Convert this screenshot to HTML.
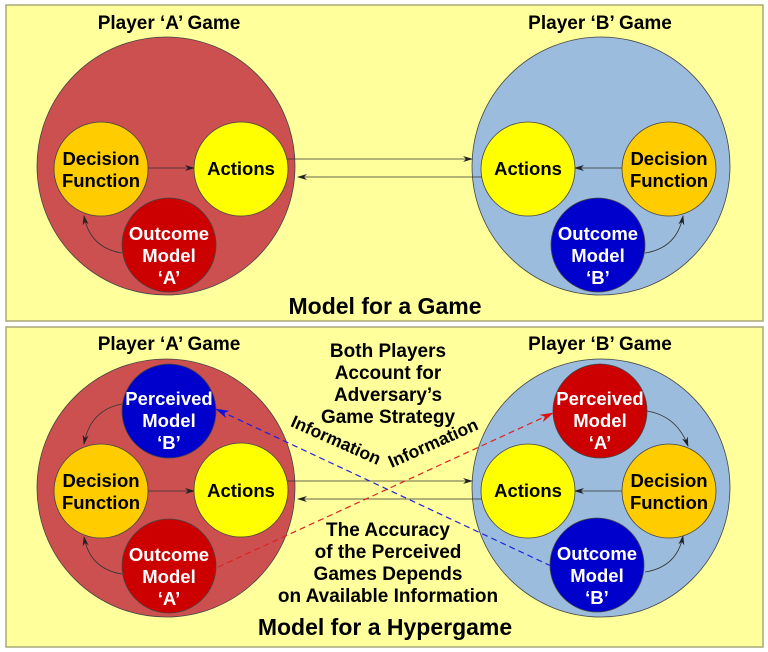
<!DOCTYPE html>
<html><head><meta charset="utf-8"><style>
html,body{margin:0;padding:0;background:#fff}
svg{display:block}
text{font-family:"Liberation Sans",Arial,sans-serif;font-weight:bold;text-anchor:middle}
</style></head><body>
<svg width="768" height="652" viewBox="0 0 768 652" xmlns="http://www.w3.org/2000/svg">
<defs>
<marker id="ah" markerWidth="10" markerHeight="6" refX="9" refY="3" orient="auto" markerUnits="userSpaceOnUse"><path d="M0,0 L10,3 L0,6 L3,3 z" fill="#222"/></marker>
<marker id="ahr" markerWidth="14" markerHeight="8" refX="13" refY="4" orient="auto" markerUnits="userSpaceOnUse"><path d="M0,0 L14,4 L0,8 L4,4 z" fill="#dd1111"/></marker>
<marker id="ahb" markerWidth="14" markerHeight="8" refX="13" refY="4" orient="auto" markerUnits="userSpaceOnUse"><path d="M0,0 L14,4 L0,8 L4,4 z" fill="#1111dd"/></marker>
</defs>
<rect x="6" y="5" width="757" height="316" fill="#ffff9c" stroke="#a8a878" stroke-width="1.5"/>
<rect x="6" y="327" width="757" height="320" fill="#ffff9c" stroke="#a8a878" stroke-width="1.5"/>

<!-- TOP -->
<text x="169" y="29" font-size="19">Player ‘A’ Game</text>
<text x="600" y="29" font-size="19">Player ‘B’ Game</text>
<text x="385" y="314" font-size="23">Model for a Game</text>
<circle cx="166" cy="166" r="129" fill="#cc5050" stroke="#444" stroke-width="0.8"/>
<circle cx="601" cy="166" r="129" fill="#9bbcdc" stroke="#444" stroke-width="0.8"/>
<line x1="287" y1="159" x2="472" y2="159" stroke="#333" stroke-width="0.8" marker-end="url(#ah)"/>
<line x1="482" y1="177" x2="298" y2="177" stroke="#333" stroke-width="0.8" marker-end="url(#ah)"/>
<line x1="148" y1="168" x2="194" y2="168" stroke="#333" stroke-width="0.8" marker-end="url(#ah)"/>
<line x1="622" y1="168" x2="575" y2="168" stroke="#333" stroke-width="0.8" marker-end="url(#ah)"/>
<path d="M122,253 Q90,248 84,216" fill="none" stroke="#333" stroke-width="0.8" marker-end="url(#ah)"/>
<path d="M645,253 Q677,248 683,216" fill="none" stroke="#333" stroke-width="0.8" marker-end="url(#ah)"/>
<circle cx="101" cy="169" r="47" fill="#ffcc00" stroke="#444" stroke-width="0.8"/>
<circle cx="241" cy="169" r="47" fill="#ffff00" stroke="#444" stroke-width="0.8"/>
<circle cx="169" cy="245" r="47" fill="#cc0000" stroke="#444" stroke-width="0.8"/>
<circle cx="528" cy="169" r="47" fill="#ffff00" stroke="#444" stroke-width="0.8"/>
<circle cx="669" cy="169" r="47" fill="#ffcc00" stroke="#444" stroke-width="0.8"/>
<circle cx="598" cy="245" r="47" fill="#0000cc" stroke="#444" stroke-width="0.8"/>
<g font-size="18.5">
<text x="101" y="165">Decision</text><text x="101" y="187">Function</text>
<text x="241" y="175">Actions</text>
<text x="528" y="175">Actions</text>
<text x="669" y="165">Decision</text><text x="669" y="187">Function</text>
<g fill="#fff"><text x="169" y="240">Outcome</text><text x="169" y="262">Model</text><text x="169" y="284">‘A’</text>
<text x="598" y="240">Outcome</text><text x="598" y="262">Model</text><text x="598" y="284">‘B’</text></g>
</g>

<!-- BOTTOM -->
<text x="169" y="350" font-size="19">Player ‘A’ Game</text>
<text x="600" y="350" font-size="19">Player ‘B’ Game</text>
<text x="385" y="635" font-size="23">Model for a Hypergame</text>
<circle cx="166" cy="488" r="129" fill="#cc5050" stroke="#444" stroke-width="0.8"/>
<circle cx="601" cy="488" r="129" fill="#9bbcdc" stroke="#444" stroke-width="0.8"/>
<g font-size="19">
<text x="388" y="357">Both Players</text><text x="388" y="379">Account for</text><text x="388" y="401">Adversary’s</text><text x="388" y="423">Game Strategy</text>
<text x="388" y="536">The Accuracy</text><text x="388" y="558">of the  Perceived</text><text x="388" y="580">Games Depends</text><text x="388" y="602">on Available Information</text>
</g>
<line x1="287" y1="481" x2="472" y2="481" stroke="#333" stroke-width="0.8" marker-end="url(#ah)"/>
<line x1="482" y1="499" x2="298" y2="499" stroke="#333" stroke-width="0.8" marker-end="url(#ah)"/>
<line x1="148" y1="491" x2="194" y2="491" stroke="#333" stroke-width="0.8" marker-end="url(#ah)"/>
<line x1="622" y1="491" x2="575" y2="491" stroke="#333" stroke-width="0.8" marker-end="url(#ah)"/>
<path d="M122,574 Q90,569 84,537" fill="none" stroke="#333" stroke-width="0.8" marker-end="url(#ah)"/>
<path d="M122,404 Q90,410 84,444" fill="none" stroke="#333" stroke-width="0.8" marker-end="url(#ah)"/>
<path d="M645,572 Q677,567 683,536" fill="none" stroke="#333" stroke-width="0.8" marker-end="url(#ah)"/>
<path d="M647,411 Q677,416 688,446" fill="none" stroke="#333" stroke-width="0.8" marker-end="url(#ah)"/>
<circle cx="101" cy="491" r="47" fill="#ffcc00" stroke="#444" stroke-width="0.8"/>
<circle cx="241" cy="490" r="47" fill="#ffff00" stroke="#444" stroke-width="0.8"/>
<circle cx="169" cy="411" r="47" fill="#0000cc" stroke="#444" stroke-width="0.8"/>
<circle cx="169" cy="566" r="47" fill="#cc0000" stroke="#444" stroke-width="0.8"/>
<circle cx="528" cy="491" r="47" fill="#ffff00" stroke="#444" stroke-width="0.8"/>
<circle cx="669" cy="491" r="47" fill="#ffcc00" stroke="#444" stroke-width="0.8"/>
<circle cx="600" cy="411" r="47" fill="#cc0000" stroke="#444" stroke-width="0.8"/>
<circle cx="597" cy="565" r="47" fill="#0000cc" stroke="#444" stroke-width="0.8"/>
<line x1="218" y1="567" x2="553" y2="413" stroke="#dd2222" stroke-width="1.2" stroke-dasharray="6,4" marker-end="url(#ahr)"/>
<line x1="551" y1="566" x2="216" y2="409" stroke="#2222dd" stroke-width="1.2" stroke-dasharray="6,4" marker-end="url(#ahb)"/>
<g font-size="17.5">
<text x="336" y="446" transform="rotate(24 336 440)">Information</text>
<text x="433" y="449" transform="rotate(-24 433 443)">Information</text>
</g>
<g font-size="18.5">
<text x="101" y="487">Decision</text><text x="101" y="509">Function</text>
<text x="241" y="497">Actions</text>
<text x="528" y="497">Actions</text>
<text x="669" y="487">Decision</text><text x="669" y="509">Function</text>
<g fill="#fff">
<text x="169" y="405">Perceived</text><text x="169" y="427">Model</text><text x="169" y="449">‘B’</text>
<text x="169" y="561">Outcome</text><text x="169" y="583">Model</text><text x="169" y="605">‘A’</text>
<text x="600" y="405">Perceived</text><text x="600" y="427">Model</text><text x="600" y="449">‘A’</text>
<text x="597" y="560">Outcome</text><text x="597" y="582">Model</text><text x="597" y="604">‘B’</text>
</g></g>
</svg>
</body></html>
